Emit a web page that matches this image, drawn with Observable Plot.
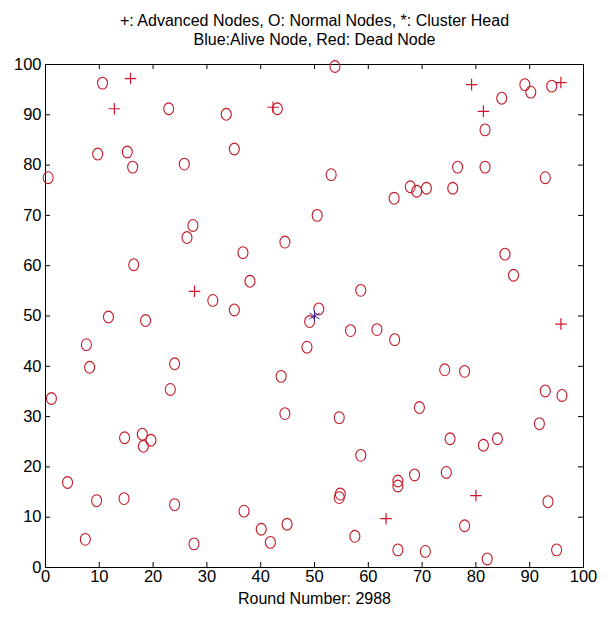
<!DOCTYPE html>
<html>
<head>
<meta charset="utf-8">
<script src="https://cdn.jsdelivr.net/npm/d3@7"></script>
<script src="https://cdn.jsdelivr.net/npm/@observablehq/plot@0.6"></script>
<style>
  html, body { margin: 0; padding: 0; background: #fff; }
</style>
</head>
<body>
<div id="chart"></div>
<script>
// Title / labels
const titleLine1 = "+: Advanced Nodes, O: Normal Nodes, *: Cluster Head";
const titleLine2 = "Blue:Alive Node, Red: Dead Node";
const xLabel = "Round Number: 2988";

// Tick values
const xTicks = [0, 10, 20, 30, 40, 50, 60, 70, 80, 90, 100];
const yTicks = [0, 10, 20, 30, 40, 50, 60, 70, 80, 90, 100];

// Normal nodes (O, red = dead)
const normalX = [10.6, 22.9, 33.6, 43.1, 9.7, 15.2, 16.2, 25.8, 35.1, 0.5, 50.5, 27.4, 26.3, 44.5, 36.7, 16.4, 38.0, 31.1, 35.1, 50.8, 53.8,
  81.7, 84.8, 89.1, 90.2, 94.1, 53.1, 64.8, 67.8, 69.0, 70.8, 75.7, 76.6, 81.7, 92.9, 85.4, 87.0, 58.6,
  11.7, 18.6, 49.1, 48.6, 7.6, 8.2, 24.0, 23.2, 1.1, 43.8, 44.5, 14.7, 18.0, 19.6, 18.2, 4.1, 9.5, 14.6, 24.0, 7.4, 27.6, 36.9, 40.1, 41.8, 44.9,
  56.7, 61.6, 64.9, 74.2, 77.9, 92.9, 96.0, 69.5, 54.6, 91.8, 75.2, 81.4, 84.0, 58.6, 68.6, 74.5, 65.5, 65.5, 54.8, 54.6, 93.4, 77.9, 57.5, 65.5, 70.6, 82.1, 95.0];
const normalY = [96.3, 91.2, 90.1, 91.2, 82.2, 82.6, 79.6, 80.2, 83.2, 77.5, 70.0, 68.0, 65.6, 64.7, 62.6, 60.2, 56.9, 53.1, 51.2, 51.4, 99.6,
  87.0, 93.3, 96.0, 94.5, 95.7, 78.1, 73.4, 75.7, 74.8, 75.4, 75.4, 79.6, 79.6, 77.5, 62.3, 58.1, 55.1,
  49.8, 49.1, 48.9, 43.8, 44.3, 39.8, 40.5, 35.4, 33.6, 38.0, 30.6, 25.8, 26.5, 25.3, 24.1, 16.9, 13.3, 13.7, 12.5, 5.6, 4.7, 11.2, 7.6, 5.0, 8.6,
  47.1, 47.3, 45.3, 39.3, 39.0, 35.1, 34.2, 31.8, 29.8, 28.6, 25.6, 24.3, 25.6, 22.3, 18.4, 18.9, 17.2, 16.2, 14.6, 13.9, 13.1, 8.3, 6.2, 3.5, 3.2, 1.7, 3.5];

// Advanced nodes (+, red = dead)
const advX = [15.8, 12.8, 42.3, 27.7, 79.2, 81.4, 95.8, 95.8, 80.0, 63.3];
const advY = [97.2, 91.2, 91.5, 54.9, 96.0, 90.7, 96.4, 48.4, 14.3, 9.7];

// Sink / cluster head (*, blue)
const sinkX = [50];
const sinkY = [50];

const normal = normalX.map((x, i) => ({x, y: normalY[i]}));
const advanced = advX.map((x, i) => ({x, y: advY[i]}));
const sink = sinkX.map((x, i) => ({x, y: sinkY[i]}));

// slightly tall ellipse marker, like the reference's circles
const ellipseSymbol = {
  draw(ctx, size) {
    const r = Math.sqrt(size / Math.PI);
    const rx = r, ry = r * 1.18, k = 0.5523;
    ctx.moveTo(rx, 0);
    ctx.bezierCurveTo(rx, ry * k, rx * k, ry, 0, ry);
    ctx.bezierCurveTo(-rx * k, ry, -rx, ry * k, -rx, 0);
    ctx.bezierCurveTo(-rx, -ry * k, -rx * k, -ry, 0, -ry);
    ctx.bezierCurveTo(rx * k, -ry, rx, -ry * k, rx, 0);
    ctx.closePath();
  }
};

const W = 611, H = 624;
const mL = 45, mR = 28, mT = 64, mB = 57;
const plotW = W - mL - mR, plotH = H - mT - mB;
const tick = 5;

const chart = Plot.plot({
  width: W,
  height: H,
  marginLeft: mL,
  marginRight: mR,
  marginTop: mT,
  marginBottom: mB,
  style: {fontFamily: "'Liberation Sans', Arial, sans-serif", fontSize: "16px", color: "#000", background: "#fff"},
  x: {domain: [0, 100]},
  y: {domain: [0, 100]},
  marks: [
    Plot.axisX(xTicks, {anchor: "bottom", tickSize: 0, tickPadding: 3, label: null, fontSize: 16.5}),
    Plot.axisY(yTicks, {anchor: "left", tickSize: 0, tickPadding: 4, label: null, fontSize: 16.5}),
    // inward ticks on all four sides
    Plot.ruleX(xTicks, {x: d => d, insetTop: plotH - tick, stroke: "#000"}),
    Plot.ruleX(xTicks, {x: d => d, insetBottom: plotH - tick, stroke: "#000"}),
    Plot.ruleY(yTicks, {y: d => d, insetRight: plotW - tick, stroke: "#000"}),
    Plot.ruleY(yTicks, {y: d => d, insetLeft: plotW - tick, stroke: "#000"}),
    Plot.frame({stroke: "#000", strokeWidth: 1}),
    Plot.dot(normal, {x: "x", y: "y", r: 5, symbol: ellipseSymbol, stroke: "#c41a2a", strokeWidth: 1.1, fill: "none"}),
    Plot.dot(advanced, {x: "x", y: "y", r: 3.8, symbol: "plus", stroke: "#d0142a", strokeWidth: 1.2}),
    Plot.dot(sink, {x: "x", y: "y", r: 5.5, symbol: "asterisk", stroke: "#3b2aa0", strokeWidth: 1}),
    Plot.text([titleLine1], {frameAnchor: "top", dy: -44, lineAnchor: "middle", fontSize: 16, fill: "#000"}),
    Plot.text([titleLine2], {frameAnchor: "top", dy: -25, lineAnchor: "middle", fontSize: 16, fill: "#000"}),
    Plot.text([xLabel], {frameAnchor: "bottom", dy: 31, lineAnchor: "middle", fontSize: 16, fill: "#000"})
  ]
});

document.getElementById("chart").appendChild(chart);
</script>
</body>
</html>
